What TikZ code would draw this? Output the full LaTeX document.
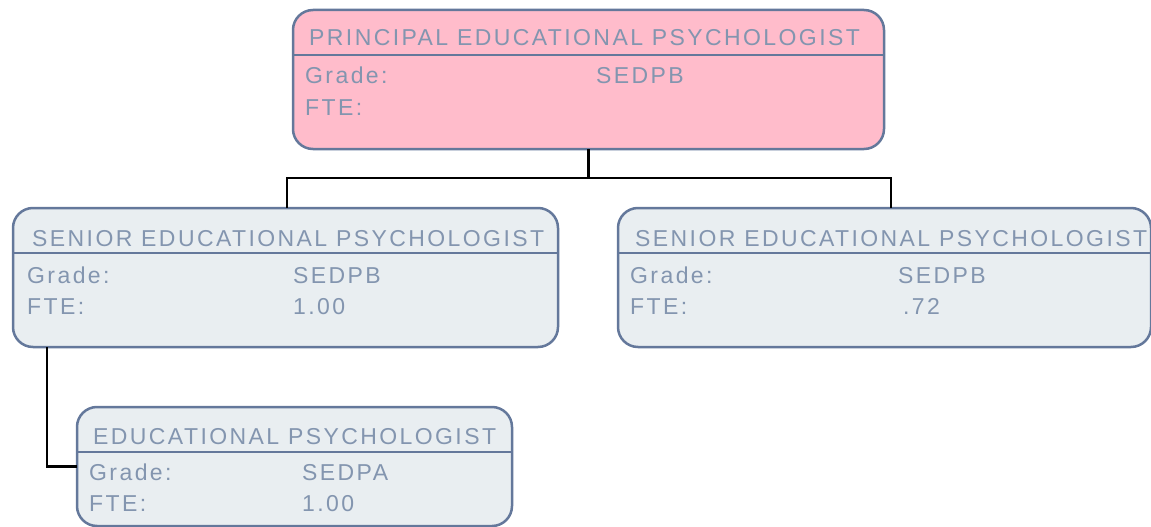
\documentclass[tikz,border=0pt]{standalone}
\usepackage{fontspec}
\setmainfont[LetterSpace=10.5]{Liberation Sans}
\definecolor{pinkfill}{HTML}{FFBCCB}
\definecolor{greyfill}{HTML}{E9EEF1}
\definecolor{edge}{HTML}{64789B}
\definecolor{txt}{HTML}{8395AF}
\begin{document}
\begin{tikzpicture}[x=1pt,y=-1pt,
  box/.style={draw=edge,line width=2.5pt,rounded corners=20pt,inner sep=0pt,outer sep=0pt,anchor=north west},
  hdr/.style={draw=edge,line width=2.5pt},
  lbl/.style={anchor=base west,inner sep=0pt,text=txt,font=\fontsize{23}{27}\selectfont},
  conn/.style={draw=black,line width=2.2pt}]
\useasboundingbox (0,0) rectangle (1151,527);
% boxes
\node[box,fill=pinkfill,minimum width=591pt,minimum height=139pt] (pep) at (293,10) {};
\node[box,fill=greyfill,minimum width=545pt,minimum height=139pt] (sl) at (13,208) {};
\node[box,fill=greyfill,minimum width=533pt,minimum height=139pt] (sr) at (618,208) {};
\node[box,fill=greyfill,minimum width=435pt,minimum height=119pt] (ep) at (77,407) {};
% header rules
\draw[hdr] (pep.west |- 0,55) -- (pep.east |- 0,55);
\draw[hdr] (sl.west |- 0,253) -- (sl.east |- 0,253);
\draw[hdr] (sr.west |- 0,253) -- (sr.east |- 0,253);
\draw[hdr] (ep.west |- 0,452) -- (ep.east |- 0,452);
% top box text
\node[lbl] (pept) at (309,46) {PRINCIPAL EDUCATIONAL PSYCHOLOGIST};
\node[lbl] (pepg) at (305,83) {Grade:};
\node[lbl] (pepgv) at (596,83) {SEDPB};
\node[lbl] (pepf) at (305,115) {FTE:};
% left senior
\node[lbl] (slt) at (32,246) {SENIOR EDUCATIONAL PSYCHOLOGIST};
\node[lbl] (slg) at (27,283) {Grade:};
\node[lbl] (slgv) at (293,283) {SEDPB};
\node[lbl] (slf) at (27,314) {FTE:};
\node[lbl] (slfv) at (293,314) {1.00};
% right senior
\node[lbl] (srt) at (635,246) {SENIOR EDUCATIONAL PSYCHOLOGIST};
\node[lbl] (srg) at (630,283) {Grade:};
\node[lbl] (srgv) at (898,283) {SEDPB};
\node[lbl] (srf) at (630,314) {FTE:};
\node[lbl] (srfv) at (903,314) {.72};
% educational psychologist
\node[lbl] (ept) at (93,444) {EDUCATIONAL PSYCHOLOGIST};
\node[lbl] (epg) at (89,480) {Grade:};
\node[lbl] (epgv) at (302,480) {SEDPA};
\node[lbl] (epf) at (89,511) {FTE:};
\node[lbl] (epfv) at (302,511) {1.00};
% connectors
\coordinate (bus) at (588.5,178);
\draw[conn] (pep.south) -- (bus);
\draw[conn] (bus) -| ([xshift=1.5pt]sl.north);
\draw[conn] (bus) -| ([xshift=6.5pt]sr.north);
\draw[conn] ([xshift=34pt]sl.south west) |- (ep.west);
\end{tikzpicture}
\end{document}
